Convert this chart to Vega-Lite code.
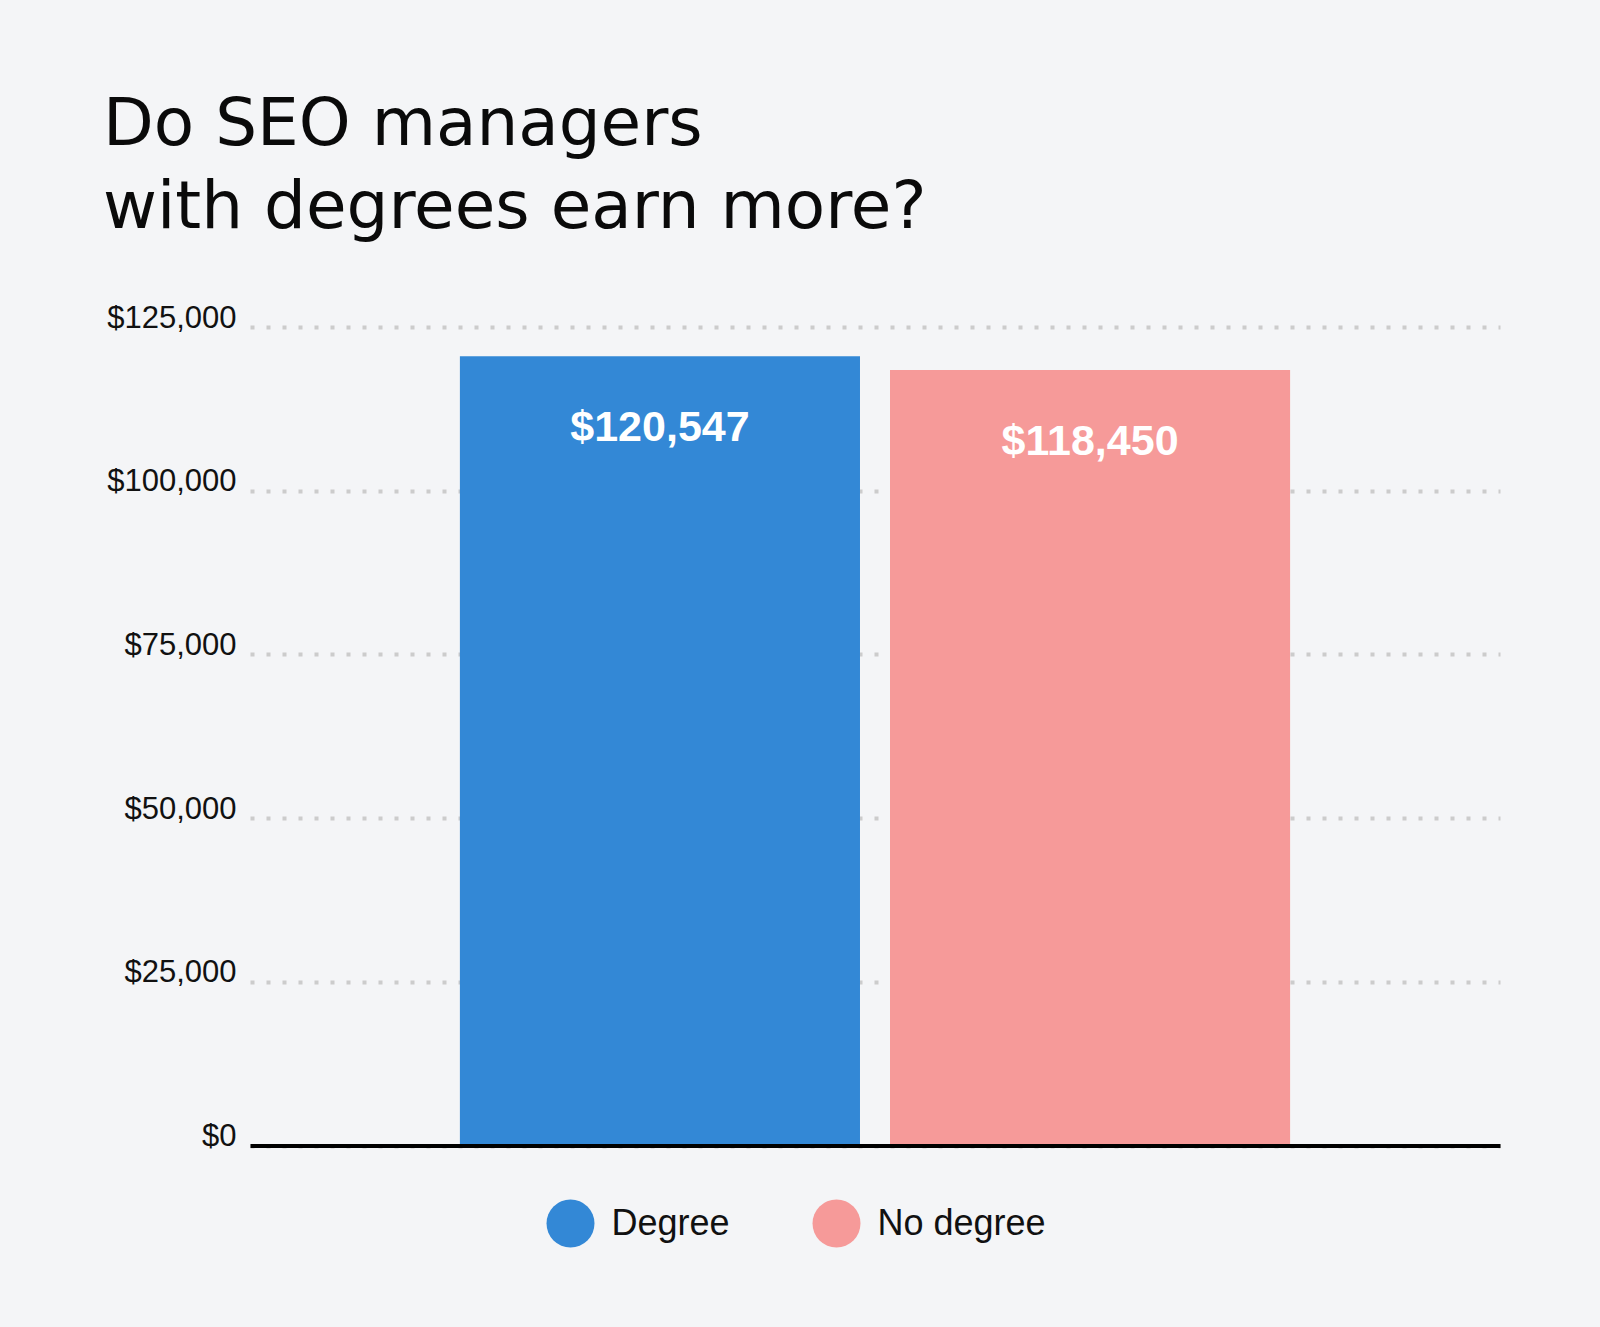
{
  "$schema": "https://vega.github.io/schema/vega-lite/v6.json",
  "width": 1250,
  "height": 818.5,
  "autosize": {"type": "none"},
  "padding": {"left": 250, "right": 100, "top": 327, "bottom": 181.5},
  "background": "#f4f5f7",
  "view": {"stroke": null},
  "title": {
    "text": ["Do SEO managers", "with degrees earn more?"],
    "font": "DejaVu Sans",
    "fontSize": 66,
    "fontWeight": "normal",
    "lineHeight": 83,
    "color": "#0a0a0a",
    "anchor": "start",
    "frame": "group",
    "dx": -147,
    "offset": 60
  },
  "data": {
    "values": [
      {"group": "Degree", "salary": 120547},
      {"group": "No degree", "salary": 118450}
    ]
  },
  "encoding": {
    "x": {
      "field": "group",
      "type": "nominal",
      "sort": null,
      "scale": {"paddingInner": 0.0698, "paddingOuter": 0.488},
      "axis": {
        "title": null,
        "labels": false,
        "ticks": false,
        "grid": false,
        "domainColor": "#000000",
        "domainWidth": 4,
        "zindex": 1
      }
    },
    "y": {
      "field": "salary",
      "type": "quantitative",
      "scale": {"domain": [0, 125000], "nice": false},
      "axis": {
        "title": null,
        "values": [0, 25000, 50000, 75000, 100000, 125000],
        "format": "$,.0f",
        "domain": false,
        "ticks": false,
        "labelFont": "Liberation Sans",
        "labelFontSize": 31,
        "labelColor": "#111111",
        "labelPadding": 14,
        "labelBaseline": "alphabetic",
        "grid": true,
        "gridColor": "#cccccc",
        "gridWidth": 4,
        "gridDash": [4, 12],
        "gridCap": "butt",
        "zindex": 0
      }
    }
  },
  "layer": [
    {
      "mark": {"type": "bar", "opacity": 1},
      "encoding": {
        "color": {
          "field": "group",
          "type": "nominal",
          "scale": {"domain": ["Degree", "No degree"], "range": ["#3388d6", "#f69a99"]},
          "legend": {
            "title": null,
            "orient": "none",
            "direction": "horizontal",
            "legendX": 296.5,
            "legendY": 872.5,
            "padding": 0,
            "symbolType": "circle",
            "symbolSize": 2300,
            "symbolStrokeWidth": 0,
            "symbolOpacity": 1,
            "labelFont": "Liberation Sans",
            "labelFontSize": 36,
            "labelColor": "#111111",
            "labelOffset": 17,
            "columnPadding": 82,
            "labelLimit": 400
          }
        }
      }
    },
    {
      "mark": {
        "type": "text",
        "font": "Liberation Sans",
        "fontSize": 43,
        "fontWeight": "bold",
        "color": "#ffffff",
        "baseline": "middle",
        "dy": 72
      },
      "encoding": {
        "text": {"field": "salary", "type": "quantitative", "format": "$,.0f"}
      }
    }
  ]
}
